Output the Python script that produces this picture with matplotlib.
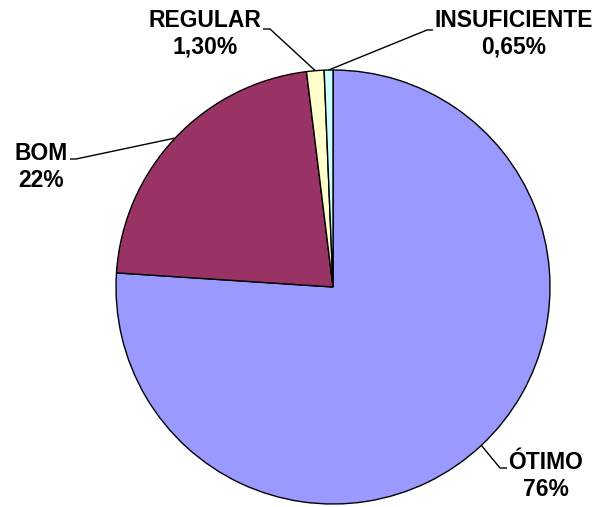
import numpy as np
import matplotlib
matplotlib.use("Agg")
import matplotlib.pyplot as plt

categories = ["ÓTIMO", "BOM", "REGULAR", "INSUFICIENTE"]
values = [76.0, 22.0, 1.30, 0.65]
value_labels = ["76%", "22%", "1,30%", "0,65%"]
colors = ["#9999FF", "#993366", "#FFFFCC", "#CCFFFF"]

W, H = 606, 507
CX, CY, R = 333, 287, 217

fig = plt.figure(figsize=(W / 100, H / 100), dpi=100)
ax = fig.add_axes([(CX - R) / W, (H - CY - R) / H, 2 * R / W, 2 * R / H])
wedges, _ = ax.pie(values, colors=colors, startangle=90, counterclock=False,
                   radius=1, wedgeprops=dict(edgecolor="black", linewidth=1.0))
ax.set_xlim(-1, 1)
ax.set_ylim(-1, 1)
ax.set_aspect("auto")
ax.axis("off")


def px(x, y):
    return (x - CX) / R, (CY - y) / R


# label text centre and elbow points (pixels)
text_pos = {"ÓTIMO": (546, 476), "BOM": (41, 167),
            "REGULAR": (205, 34), "INSUFICIENTE": (514, 34)}
elbows = {"ÓTIMO": [(507, 468), (500, 468)],
          "BOM": [(70, 159), (76, 159)],
          "REGULAR": [(263, 29), (270, 29)],
          "INSUFICIENTE": [(433, 30), (427, 30)]}

for w, cat, lab in zip(wedges, categories, value_labels):
    ang = np.deg2rad((w.theta1 + w.theta2) / 2)
    ex, ey = np.cos(ang), np.sin(ang)
    pts = [px(*p) for p in elbows[cat]] + [(ex, ey)]
    ax.plot([p[0] for p in pts], [p[1] for p in pts], color="black",
            lw=1.0, clip_on=False, solid_capstyle="butt")
    tx, ty = px(*text_pos[cat])
    ax.text(tx, ty, f"{cat}\n{lab}", ha="center", va="center",
            fontsize=16.5, fontweight="bold", family="Liberation Sans",
            linespacing=1.2, clip_on=False)

fig.savefig("out.png", dpi=100)
